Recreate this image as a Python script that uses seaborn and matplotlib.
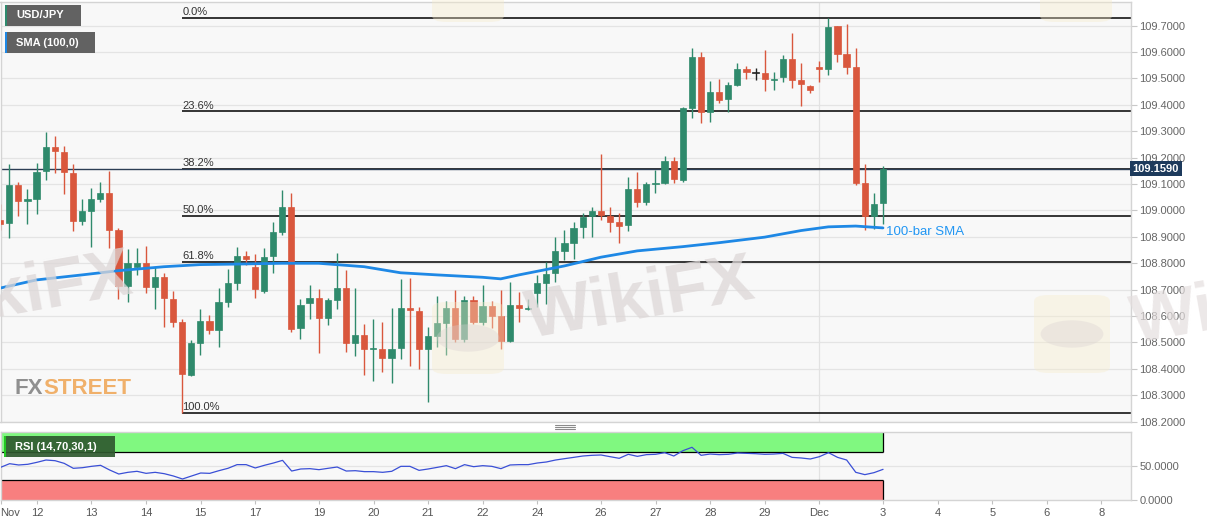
import numpy as np
import pandas as pd
import seaborn as sns
import matplotlib.pyplot as plt
from matplotlib.patches import Rectangle, FancyBboxPatch, Circle
from matplotlib.lines import Line2D

# 4H candles, index 0 = Dec 3 00:00
candle_idx = list(range(-97, 1))
opens = [108.964, 108.952, 109.096, 109.036, 109.043, 109.149, 109.240, 109.221, 109.142, 108.960,
         108.998, 109.043, 109.066, 108.926, 108.714, 108.786, 108.801, 108.710, 108.748, 108.665,
         108.577, 108.377, 108.498, 108.581, 108.547, 108.653, 108.725, 108.827, 108.786, 108.695,
         108.827, 108.918, 109.013, 108.555, 108.650, 108.669, 108.593, 108.661, 108.706, 108.498,
         108.528, 108.475, 108.475, 108.441, 108.479, 108.631, 108.619, 108.475, 108.524, 108.574,
         108.631, 108.513, 108.661, 108.577, 108.638, 108.600, 108.506, 108.642, 108.627, 108.687,
         108.725, 108.763, 108.847, 108.877, 108.937, 108.979, 108.998, 108.979, 108.956, 108.945,
         109.081, 109.032, 109.100, 109.104, 109.187, 109.115, 109.388, 109.581, 109.373, 109.449,
         109.422, 109.475, 109.536, 109.521, 109.521, 109.494, 109.506, 109.574, 109.494, 109.471,
         109.544, 109.536, 109.699, 109.593, 109.544, 109.104, 108.979, 109.028]
highs = [109.024, 109.176, 109.108, 109.081, 109.180, 109.297, 109.282, 109.244, 109.176, 109.043,
         109.085, 109.108, 109.149, 108.934, 108.854, 108.858, 108.865, 108.786, 108.763, 108.695,
         108.589, 108.509, 108.627, 108.604, 108.706, 108.778, 108.862, 108.847, 108.835, 108.858,
         108.956, 109.077, 109.066, 108.665, 108.718, 108.703, 108.669, 108.839, 108.775, 108.706,
         108.570, 108.589, 108.577, 108.631, 108.741, 108.744, 108.634, 108.559, 108.676, 108.657,
         108.699, 108.676, 108.676, 108.718, 108.657, 108.699, 108.729, 108.691, 108.665, 108.756,
         108.805, 108.900, 108.926, 108.956, 108.990, 109.013, 109.214, 109.013, 108.990, 109.127,
         109.146, 109.108, 109.153, 109.206, 109.203, 109.392, 109.615, 109.600, 109.490, 109.498,
         109.487, 109.559, 109.547, 109.540, 109.608, 109.525, 109.589, 109.672, 109.559, 109.475,
         109.566, 109.728, 109.699, 109.706, 109.615, 109.176, 109.066, 109.168]
lows = [108.926, 108.896, 108.979, 108.949, 108.986, 109.115, 109.142, 109.062, 108.922, 108.945,
        108.862, 109.032, 108.858, 108.665, 108.653, 108.756, 108.687, 108.627, 108.559, 108.559,
        108.233, 108.373, 108.453, 108.532, 108.483, 108.634, 108.699, 108.794, 108.669, 108.687,
        108.763, 108.907, 108.540, 108.513, 108.589, 108.460, 108.566, 108.627, 108.464, 108.449,
        108.377, 108.354, 108.389, 108.347, 108.438, 108.411, 108.400, 108.275, 108.483, 108.453,
        108.502, 108.502, 108.570, 108.566, 108.555, 108.475, 108.500, 108.577, 108.623, 108.634,
        108.646, 108.729, 108.812, 108.816, 108.896, 108.900, 108.964, 108.918, 108.877, 108.922,
        109.013, 109.021, 109.066, 109.100, 109.104, 109.108, 109.350, 109.331, 109.335, 109.407,
        109.373, 109.472, 109.498, 109.494, 109.453, 109.456, 109.487, 109.464, 109.396, 109.445,
        109.487, 109.513, 109.563, 109.517, 109.096, 108.926, 108.930, 108.949]
closes = [108.949, 109.096, 109.036, 109.043, 109.146, 109.240, 109.225, 109.146, 108.960, 108.998,
          109.043, 109.066, 108.926, 108.714, 108.801, 108.801, 108.710, 108.748, 108.668, 108.577,
          108.380, 108.498, 108.581, 108.547, 108.653, 108.725, 108.827, 108.816, 108.703, 108.824,
          108.918, 109.013, 108.551, 108.642, 108.669, 108.593, 108.661, 108.706, 108.498, 108.528,
          108.475, 108.479, 108.441, 108.475, 108.631, 108.623, 108.475, 108.524, 108.574, 108.631,
          108.513, 108.661, 108.577, 108.638, 108.600, 108.506, 108.642, 108.631, 108.631, 108.725,
          108.760, 108.847, 108.877, 108.934, 108.975, 108.998, 108.983, 108.956, 108.941, 109.081,
          109.032, 109.100, 109.104, 109.187, 109.119, 109.388, 109.581, 109.373, 109.449, 109.418,
          109.475, 109.536, 109.524, 109.521, 109.498, 109.498, 109.574, 109.494, 109.479, 109.456,
          109.536, 109.695, 109.593, 109.544, 109.104, 108.979, 109.024, 109.159]

# 100-bar SMA
sma_idx = [-97, -93, -88, -84, -79, -75, -71, -66, -62, -57, -53, -49, -44, -42, -40,
           -35, -31, -27, -22, -18, -13, -9, -6, -3, 0]
sma_vals = [108.706, 108.737, 108.756, 108.772, 108.787, 108.795, 108.797, 108.800, 108.800,
            108.787, 108.764, 108.756, 108.747, 108.741, 108.756, 108.790, 108.823, 108.847,
            108.863, 108.878, 108.899, 108.924, 108.938, 108.941, 108.934]

rsi_vals = [48.0, 53.4, 51.5, 52.5, 55.4, 58.8, 57.8, 53.9, 46.6, 47.5, 49.5, 51.0, 44.1, 38.2,
            40.7, 42.2, 39.2, 40.7, 38.7, 35.3, 30.9, 35.3, 39.7, 39.2, 43.1, 46.6, 52.0, 52.0,
            47.1, 51.0, 54.4, 58.3, 42.6, 45.6, 46.1, 44.6, 46.6, 48.5, 42.6, 43.1, 41.7, 41.7,
            40.7, 42.2, 49.5, 49.5, 43.6, 45.6, 48.0, 50.5, 46.1, 52.0, 49.0, 50.5, 49.5, 46.1,
            51.5, 52.0, 52.0, 54.4, 55.9, 58.8, 60.8, 62.7, 64.7, 65.7, 66.2, 63.7, 61.3, 67.2,
            64.2, 66.7, 67.2, 69.6, 64.7, 72.5, 77.5, 65.7, 67.6, 66.7, 67.2, 69.1, 68.6, 68.1,
            67.2, 67.6, 68.6, 62.7, 61.8, 60.3, 63.7, 69.6, 62.7, 58.8, 40.7, 37.3, 40.2, 45.1]

fib_labels = ["0.0%", "23.6%", "38.2%", "50.0%", "61.8%", "100.0%"]
fib_levels = [109.728, 109.375, 109.157, 108.980, 108.804, 108.233]
fib_start = -77
last_price = 109.159

tick_pos = [-97, -93, -87, -81, -75, -69, -62, -56, -50, -44, -38, -31, -25, -19, -13, -7,
            0, 6, 12, 18, 24]
tick_labels = ["Nov", "12", "13", "14", "15", "17", "19", "20", "21", "22", "24", "26", "27",
               "28", "29", "Dec", "3", "4", "5", "6", "8"]

sns.set_theme(style="white")
plt.rcParams["font.family"] = ["Liberation Sans", "DejaVu Sans"]

W, H = 1207, 526


def fx(x):
    return x / W


def fy(y):
    return 1 - y / H


GREEN = "#2f8a6c"
RED = "#d9573d"
BG = "#f8f8f8"
GRID = "#e4e4e4"

fig = plt.figure(figsize=(W / 100, H / 100), dpi=100)
fig.patch.set_facecolor("white")
ax = fig.add_axes([fx(0.5), fy(422), fx(1131) - fx(0.5), fy(2) - fy(422)])
ax_rsi = fig.add_axes([fx(0.5), fy(500), fx(1131) - fx(0.5), fy(432) - fy(500)])

xlim = (-96.96, 27.25)
for a in (ax, ax_rsi):
    a.set_facecolor(BG)
    a.set_xlim(*xlim)
    for s in a.spines.values():
        s.set_color("#d4d4d4")
        s.set_linewidth(1)

df = pd.DataFrame({"idx": candle_idx, "open": opens, "high": highs, "low": lows, "close": closes})
df["color"] = np.where(df["close"] > df["open"], GREEN, np.where(df["close"] < df["open"], RED, "#222222"))
body_lo = df[["open", "close"]].min(axis=1)
body_h = (df["close"] - df["open"]).abs()
min_h = 0.004
body_bottom = body_lo - np.clip(min_h - body_h, 0, None) / 2
body_h = np.maximum(body_h, min_h)

# grid
ax.set_ylim(108.1988, 109.7897)
yt = np.round(np.arange(108.2, 109.71, 0.1), 1)
ax.set_yticks(yt)
ax.set_yticklabels([f"{v:.4f}" for v in yt])
for v in yt:
    ax.axhline(v, color=GRID, lw=0.9, zorder=0)
ax.axvline(-7, color="#e2e2e2", lw=0.9, zorder=0)

# watermarks
fig.text(fx(640), fy(300), "WikiFX", fontsize=50, fontweight="bold", color="#ddd7d7",
         rotation=10, ha="center", va="center", zorder=0.2, alpha=0.75)
fig.text(fx(18), fy(295), "WikiFX", fontsize=50, fontweight="bold", color="#ddd7d7",
         rotation=10, ha="center", va="center", zorder=0.2, alpha=0.75)
fig.text(fx(1245), fy(305), "WikiFX", fontsize=50, fontweight="bold", color="#e4dede",
         rotation=10, ha="center", va="center", zorder=0.2, alpha=0.7)
for (lx, ly, lw_, lh) in [(432, 302, 72, 72), (1034, 295, 76, 78), (432, -50, 72, 72), (1040, -50, 72, 72)]:
    fig.add_artist(FancyBboxPatch((fx(lx), fy(ly + lh)), fx(lw_), lh / H,
                                  boxstyle="round,pad=0,rounding_size=0.012",
                                  transform=fig.transFigure, facecolor="#f7eccb", edgecolor="none",
                                  alpha=0.38, zorder=0.1))
    fig.add_artist(Circle((fx(lx + lw_ / 2), fy(ly + lh / 2)), 0.026, transform=fig.transFigure,
                          facecolor="#d8d0d0", edgecolor="none", alpha=0.35, zorder=0.15))
fig.text(fx(15), fy(389), "FX", fontsize=16, fontweight="bold", color="#8f8f8f",
         va="center", ha="left", zorder=0.3)
fig.text(fx(43.5), fy(389), "STREET", fontsize=16, fontweight="bold", color="#f0b06a",
         va="center", ha="left", zorder=0.3)

# candles
ax.vlines(df["idx"], df["low"], df["high"], colors=df["color"], lw=1, zorder=3)
ax.bar(df["idx"], body_h, bottom=body_bottom, width=0.68, color=df["color"],
       edgecolor=df["color"], linewidth=0.5, zorder=4)

# fibonacci
ax.hlines(fib_levels, fib_start, xlim[1], colors="black", lw=1.1, zorder=2)
for lab, lv in zip(fib_labels, fib_levels):
    ax.text(fib_start, lv + 0.003, lab, fontsize=8, color="#333333", ha="left", va="bottom", zorder=5)

ax.axhline(last_price, color="#2c3e55", lw=1, zorder=2.5)

# SMA
sns.lineplot(x=sma_idx, y=sma_vals, ax=ax, color="#1e88e5", lw=2, zorder=5)
ax.text(0.3, 108.919, "100-bar SMA", color="#2196f3", fontsize=9.5, ha="left", va="center", zorder=6)

ax.yaxis.tick_right()
ax.tick_params(axis="y", which="both", right=True, length=4, width=0.8, color="#c8c8c8",
               labelsize=8, labelcolor="#666666", pad=2)
ax.set_xticks([])

ax.text(1.0015, last_price, "109.1590", transform=ax.get_yaxis_transform(), fontsize=8,
        fontweight="bold", color="white", ha="left", va="center", zorder=10,
        bbox=dict(boxstyle="square,pad=0.25", facecolor="#1d3a5c", edgecolor="none"), clip_on=False)

# RSI panel
ax_rsi.set_ylim(0, 100)
ax_rsi.axhline(50, color=GRID, lw=0.9, zorder=0)
ax_rsi.axvline(-7, color="#e2e2e2", lw=0.9, zorder=0)
ax_rsi.fill_between([-100, 0], 70, 100, color="#80f880", zorder=1, lw=0)
ax_rsi.fill_between([-100, 0], 0, 30, color="#f87f7f", zorder=1, lw=0)
ax_rsi.hlines([70, 30], -100, 0, colors="black", lw=0.9, zorder=2)
ax_rsi.vlines(0, 70, 100, colors="black", lw=0.9, zorder=2)
ax_rsi.vlines(0, 0, 30, colors="black", lw=0.9, zorder=2)
sns.lineplot(x=candle_idx, y=rsi_vals, ax=ax_rsi, color="#3a4fd6", lw=0.9, zorder=3)
ax_rsi.yaxis.tick_right()
ax_rsi.set_yticks([0, 50])
ax_rsi.set_yticklabels(["0.0000", "50.0000"])
ax_rsi.set_xticks(tick_pos)
ax_rsi.set_xticklabels(tick_labels)
ax_rsi.tick_params(axis="y", right=True, length=4, width=0.8, color="#c8c8c8",
                   labelsize=8, labelcolor="#666666", pad=2)
ax_rsi.tick_params(axis="x", bottom=True, length=3, width=0.8, color="#c0c0c0",
                   labelsize=8, labelcolor="#555555", pad=3)
ax_rsi.get_xticklabels()[0].set_ha("left")
ax.set_xlabel("")
ax.set_ylabel("")
ax_rsi.set_xlabel("")
ax_rsi.set_ylabel("")

# label boxes


def label_box(x0, y0, x1, y1, text, face, strip, alpha=1.0):
    fig.add_artist(Rectangle((fx(x0), fy(y1)), fx(x1 - x0), (y1 - y0) / H, transform=fig.transFigure,
                             facecolor=face, edgecolor="none", alpha=alpha, zorder=8))
    fig.add_artist(Rectangle((fx(x0), fy(y1)), fx(2), (y1 - y0) / H, transform=fig.transFigure,
                             facecolor=strip, edgecolor="none", zorder=9))
    fig.text(fx(x0 + 11), fy((y0 + y1) / 2), text, fontsize=8, fontweight="bold", color="white",
             ha="left", va="center", zorder=10)


label_box(5, 5, 81, 26, "USD/JPY", "#626262", "#2e8b6e")
label_box(5, 32, 95, 53, "SMA (100,0)", "#626262", "#1e88e5")
label_box(4, 436, 115, 457, "RSI (14,70,30,1)", "#2f5a2f", "#22c822", alpha=0.92)

# panel separator handle
for yy in (425, 427, 429):
    fig.add_artist(Line2D([fx(555), fx(575)], [fy(yy), fy(yy)], transform=fig.transFigure,
                          color="#8a8a8a", lw=0.8))

fig.savefig("out.png", dpi=100)
